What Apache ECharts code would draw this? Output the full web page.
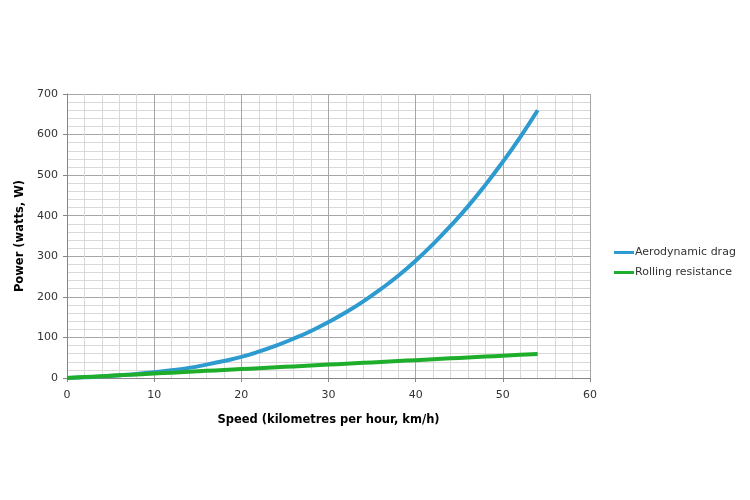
<!DOCTYPE html>
<html>
<head>
<meta charset="utf-8">
<script src="https://cdn.jsdelivr.net/npm/echarts@6/dist/echarts.min.js"></script>
<style>html,body{margin:0;padding:0;background:#fff}#c{width:750px;height:500px}</style>
</head>
<body>
<div id="c"></div>
<script>
const speeds = [0,2,4,6,8,10,12,14,16,18,20,22,24,26,28,30,32,34,36,38,40,42,44,46,48,50,52,54];
const aeroDrag = [0,2,4,7,10,14,19,25,33,42,52,65,80,97,116,138,162,189,219,252,289,330,375,423,476,533,594,660];
const rollingRes = [0,2.2,4.4,6.6,8.8,11,13.2,15.4,17.6,19.8,22,24.2,26.4,28.6,30.8,33,35.2,37.4,39.6,41.8,44,46.2,48.4,50.6,52.8,55,57.2,59.4];
const seriesNames = ['Aerodynamic drag','Rolling resistance'];
const xTitle = 'Speed (kilometres per hour, km/h)';
const yTitle = 'Power (watts, W)';

const font = 'DejaVu Sans, Verdana, sans-serif';
const chart = echarts.init(document.getElementById('c'));
function pts(vals){ return speeds.map((s,i)=>[s, vals[i]]); }
chart.setOption({
  animation: false,
  textStyle: { fontFamily: font },
  grid: { left: 67, right: 160, top: 94, bottom: 122, containLabel: false },
  legend: {
    orient: 'vertical', left: 609, top: 242, itemGap: 9,
    itemWidth: 20, itemHeight: 3, icon: 'rect',
    textStyle: { fontFamily: font, fontSize: 11, color: '#333', padding: [0,0,0,-4] },
    data: seriesNames
  },
  xAxis: {
    type: 'value', min: 0, max: 60, interval: 10,
    name: xTitle, nameLocation: 'middle', nameGap: 36,
    nameTextStyle: { fontFamily: font, fontSize: 11.5, fontWeight: 'bold', color: '#000' },
    axisLine: { lineStyle: { color: '#868686', width: 1 } },
    axisTick: { show: true, length: 4, lineStyle: { color: '#868686' } },
    axisLabel: { fontFamily: font, fontSize: 11, color: '#333', margin: 12 },
    splitLine: { show: true, lineStyle: { color: '#a6a6a6', width: 1 } },
    minorTick: { show: false, splitNumber: 5 },
    minorSplitLine: { show: true, lineStyle: { color: '#d9d9d9', width: 1 } }
  },
  yAxis: {
    type: 'value', min: 0, max: 700, interval: 100,
    name: yTitle, nameLocation: 'middle', nameGap: 40, nameRotate: 90,
    nameTextStyle: { fontFamily: font, fontSize: 11.5, fontWeight: 'bold', color: '#000' },
    axisLine: { show: true, lineStyle: { color: '#868686', width: 1 } },
    axisTick: { show: true, length: 4, lineStyle: { color: '#868686' } },
    axisLabel: { fontFamily: font, fontSize: 11, color: '#333', margin: 9 },
    splitLine: { show: true, lineStyle: { color: '#a6a6a6', width: 1 } },
    minorTick: { show: false, splitNumber: 5 },
    minorSplitLine: { show: true, lineStyle: { color: '#d9d9d9', width: 1 } }
  },
  series: [
    { name: seriesNames[0], type: 'line', data: pts(aeroDrag), smooth: true, showSymbol: false,
      lineStyle: { color: '#2e9bd0', width: 4 }, itemStyle: { color: '#2e9bd0' } },
    { name: seriesNames[1], type: 'line', data: pts(rollingRes), smooth: true, showSymbol: false,
      lineStyle: { color: '#1fae2c', width: 4 }, itemStyle: { color: '#1fae2c' } }
  ]
});
</script>
</body>
</html>
